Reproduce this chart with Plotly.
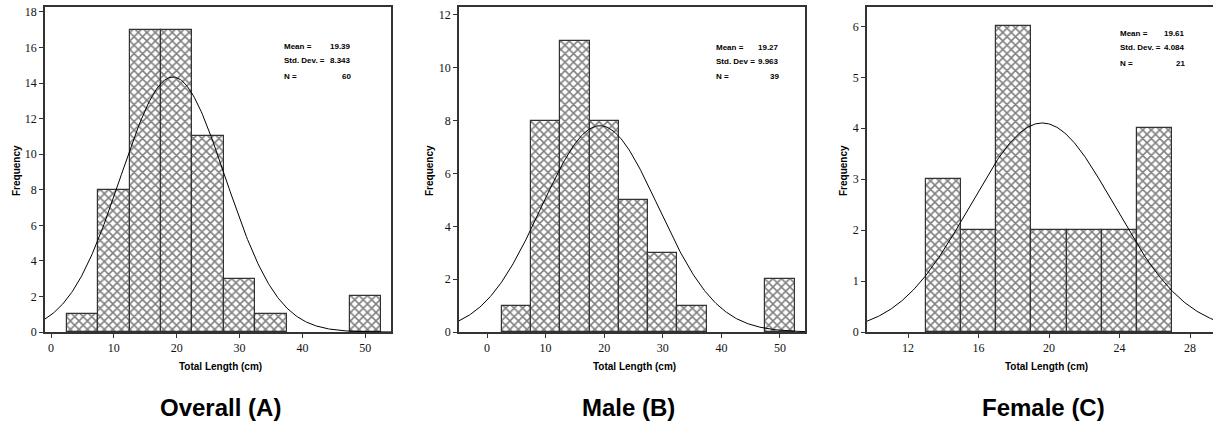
import numpy as np
import plotly.graph_objects as go

W, H = 1213, 423

# ---- data ----
a_centers = [5, 10, 15, 20, 25, 30, 35, 50]
a_counts = [1, 8, 17, 17, 11, 3, 1, 2]
b_centers = [5, 10, 15, 20, 25, 30, 35, 50]
b_counts = [1, 8, 11, 8, 5, 3, 1, 2]
c_centers = [14, 16, 18, 20, 22, 24, 26]
c_counts = [3, 2, 6, 2, 2, 2, 4]
bin_widths = [5, 5, 2]
means = [19.39, 19.27, 19.61]
sds = [8.343, 9.963, 4.084]
ns = [60, 39, 21]
stat_labels = [["Mean =", "Std. Dev. =", "N ="],
               ["Mean =", "Std. Dev =", "N ="],
               ["Mean =", "Std. Dev. =", "N ="]]
stat_values = [["19.39", "8.343", "60"], ["19.27", "9.963", "39"], ["19.61", "4.084", "21"]]
panel_titles = ["Overall (A)", "Male (B)", "Female (C)"]
x_ticks = [[0, 10, 20, 30, 40, 50], [0, 10, 20, 30, 40, 50], [12, 16, 20, 24, 28]]
y_ticks = [[0, 2, 4, 6, 8, 10, 12, 14, 16, 18], [0, 2, 4, 6, 8, 10, 12], [0, 1, 2, 3, 4, 5, 6]]

# ---- layout geometry (pixels) ----
px_x = [(45, 391), (459, 805), (867, 1213)]
px_top, px_bot = 7, 332
x_ranges = [[-0.96, 54.1], [-4.78, 54.27], [9.67, 29.3]]
y_ranges = [[0, 18.28], [0, 12.3], [0, 6.38]]
stat_x = [(282, 353), (714, 781), (1118, 1187)]
stat_rows_y = [(46, 61, 76), (47, 62, 76), (33, 48, 63)]
freq_x = [16, 429, 843]
xtitle_cx = [220, 634, 1046]
title_cx = [220, 628, 1043]

def fx(p):
    return p / W

def fy(p):
    return 1 - p / H

SANS = "Liberation Sans, Arial"

fig = go.Figure()
centers_all = [a_centers, b_centers, c_centers]
counts_all = [a_counts, b_counts, c_counts]

for i in range(3):
    xa = "x" if i == 0 else f"x{i+1}"
    ya = "y" if i == 0 else f"y{i+1}"
    fig.add_trace(go.Bar(
        x=centers_all[i], y=counts_all[i], width=bin_widths[i],
        xaxis=xa, yaxis=ya,
        marker=dict(color="white", line=dict(color="#333", width=1.2),
                    pattern=dict(shape="x", size=6, solidity=0.45, fgcolor="black", bgcolor="white")),
        showlegend=False, hoverinfo="skip"))
    xs = np.linspace(x_ranges[i][0], x_ranges[i][1], 300)
    ys = ns[i] * bin_widths[i] / (sds[i] * np.sqrt(2 * np.pi)) * np.exp(-0.5 * ((xs - means[i]) / sds[i]) ** 2)
    fig.add_trace(go.Scatter(x=xs, y=ys, mode="lines", line=dict(color="black", width=1),
                             xaxis=xa, yaxis=ya, showlegend=False, hoverinfo="skip"))

    axis_common = dict(showline=True, linecolor="#333", linewidth=1.5, ticks="outside", ticklen=4,
                       tickcolor="#333", showgrid=False, zeroline=False, automargin=False,
                       tickfont=dict(family="Liberation Serif", size=12, color="#111"))
    xkey = "xaxis" if i == 0 else f"xaxis{i+1}"
    ykey = "yaxis" if i == 0 else f"yaxis{i+1}"
    fig.layout[xkey] = dict(domain=[fx(px_x[i][0]), fx(px_x[i][1])], range=x_ranges[i],
                            tickvals=x_ticks[i], anchor=ya, mirror=True, **axis_common)
    fig.layout[ykey] = dict(domain=[fy(px_bot), fy(px_top)], range=y_ranges[i],
                            tickvals=y_ticks[i], anchor=xa, mirror=(i < 2), **axis_common)

    # frequency label
    fig.add_annotation(text="<b>Frequency</b>", xref="paper", yref="paper",
                       x=fx(freq_x[i]), y=fy(171), xanchor="center", yanchor="middle",
                       textangle=-90, showarrow=False,
                       font=dict(family=SANS, size=10, color="black"))
    # x title
    fig.add_annotation(text="<b>Total Length (cm)</b>", xref="paper", yref="paper",
                       x=fx(xtitle_cx[i]), y=fy(366), xanchor="center", yanchor="middle", showarrow=False,
                       font=dict(family=SANS, size=10, color="black"))
    # panel title
    fig.add_annotation(text=f"<b>{panel_titles[i]}</b>", xref="paper", yref="paper",
                       x=fx(title_cx[i]), y=fy(407), xanchor="center", yanchor="middle", showarrow=False,
                       font=dict(family=SANS, size=24, color="black"))
    # stats
    lx, rx = stat_x[i]
    for lab, val, ry in zip(stat_labels[i], stat_values[i], stat_rows_y[i]):
        fig.add_annotation(text=f"<b>{lab}</b>", xref="paper", yref="paper",
                           x=fx(lx), y=fy(ry), xanchor="left", yanchor="middle", showarrow=False,
                           font=dict(family=SANS, size=8, color="black"))
        fig.add_annotation(text=f"<b>{val}</b>", xref="paper", yref="paper",
                           x=fx(rx), y=fy(ry), xanchor="right", yanchor="middle", showarrow=False,
                           font=dict(family=SANS, size=8, color="black"))

fig.update_layout(width=W, height=H, margin=dict(l=0, r=0, t=0, b=0),
                  paper_bgcolor="white", plot_bgcolor="white", bargap=0)
fig.write_html("out.html", config={"displayModeBar": False},
               post_script="document.body.style.margin='0';document.body.style.overflow='hidden';")
